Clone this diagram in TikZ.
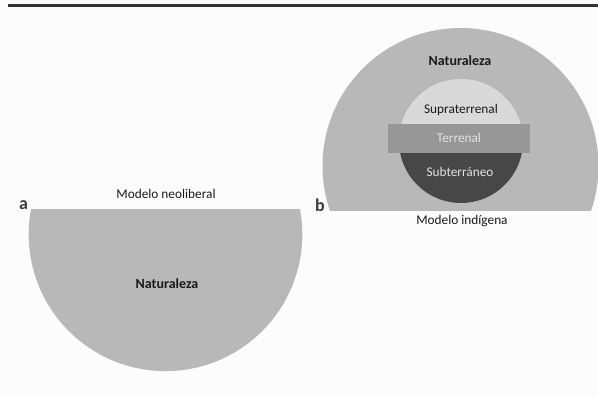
\documentclass[tikz,border=0pt]{standalone}
\usepackage{fontspec}
\setmainfont{Carlito}
\definecolor{bgc}{HTML}{FCFCFC}
\definecolor{natc}{HTML}{B8B8B8}
\definecolor{supc}{HTML}{D9D9D9}
\definecolor{terc}{HTML}{979797}
\definecolor{subc}{HTML}{474747}
\definecolor{linec}{HTML}{333333}
\definecolor{txtc}{HTML}{1A1A1A}
\definecolor{lighttxt}{HTML}{E2E2E2}
\begin{document}
\begin{tikzpicture}[x=1pt,y=-1pt,
  lbl/.style={inner sep=0pt,anchor=base,text=txtc,font=\fontsize{13.3}{15}\selectfont},
  boldlbl/.style={lbl,font=\fontsize{14}{16}\selectfont\bfseries},
  panel/.style={inner sep=0pt,anchor=base,text=txtc!85,font=\fontsize{18}{20}\selectfont\bfseries}]
\fill[bgc] (0,0) rectangle (598,398);
\useasboundingbox (0,0) rectangle (598,398);
% top rule
\coordinate (rl) at (8,5.5);
\coordinate (rr) at (598,5.5);
\draw[linec,line width=2.2pt] (rl) -- (rr);
% left model
\begin{scope}
  \clip (0,209.5) rectangle (598,398);
  \fill[natc] (165.5,234.3) circle[radius=136.8pt];
\end{scope}
\node[lbl] (mneo) at (166,199) {Modelo neoliberal};
\node[boldlbl] (natA) at (167,289) {Naturaleza};
\node[panel] (pa) at (23.5,210) {a};
% right model
\begin{scope}
  \clip (0,0) rectangle (598,211);
  \fill[natc] (460.5,166) circle[radius=138pt];
\end{scope}
\fill[supc] (461,141) circle[radius=62pt];
\begin{scope}
  \clip (380,141) rectangle (540,210);
  \fill[subc] (461,141) circle[radius=62pt];
\end{scope}
\node[fill=terc,minimum width=142pt,minimum height=29pt,inner sep=0pt] (ter) at (459,138.5) {};
\node[boldlbl] (natB) at (460,66) {Naturaleza};
\node[lbl] (sup) at (461,114) {Supraterrenal};
\node[lbl,text=lighttxt] (terl) at (459,143) {Terrenal};
\node[lbl,text=lighttxt] (sub) at (460,177) {Subterráneo};
\node[lbl] (mind) at (462,225) {Modelo indígena};
\node[panel] (pb) at (320,212) {b};
\end{tikzpicture}
\end{document}
